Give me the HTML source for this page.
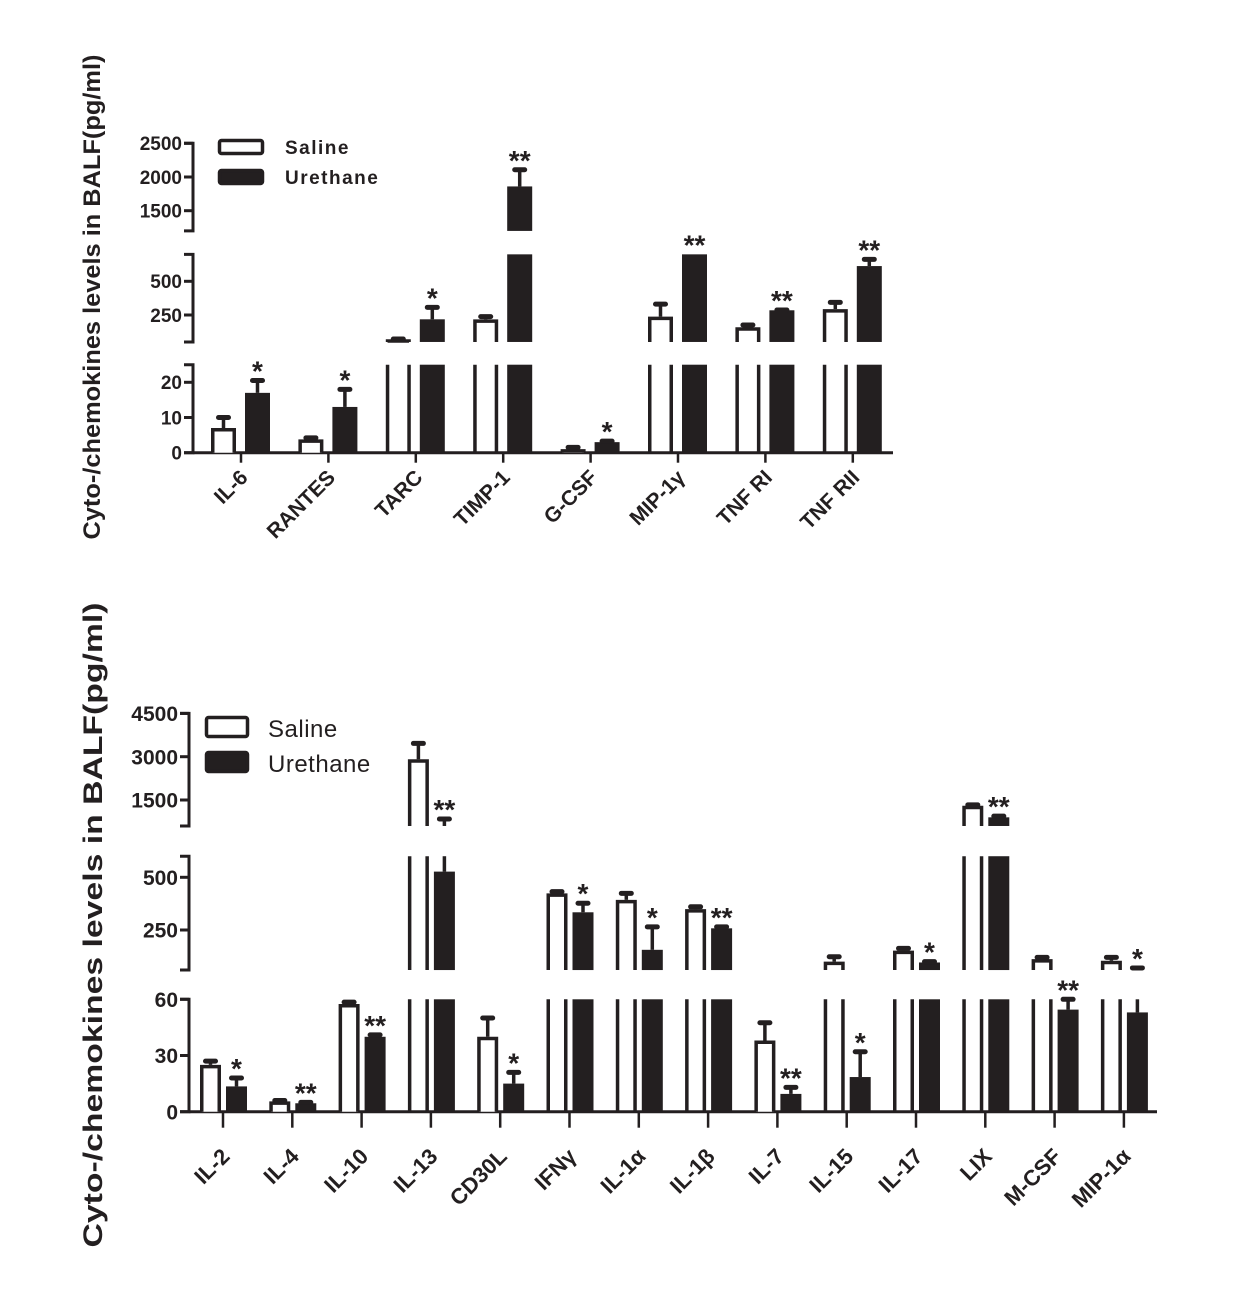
<!DOCTYPE html>
<html><head><meta charset="utf-8"><style>
html,body{margin:0;padding:0;background:#fff;}
svg{display:block;font-family:"Liberation Sans",Arial,sans-serif;}
</style></head>
<body>
<svg id="chart" width="1238" height="1296" viewBox="0 0 1238 1296" xmlns="http://www.w3.org/2000/svg">
<rect width="1238" height="1296" fill="#fff"/>
</svg>
<script>
// ---- Top chart data ----
const topCats = ["IL-6","RANTES","TARC","TIMP-1","G-CSF","MIP-1γ","TNF RI","TNF RII"];
const topSaline = [7, 3.8, 70, 218, 1, 238, 159, 294];
const topSalineErr = [10, 4.2, 72, 238, 1.5, 331, 176, 344];
const topUrethane = [17, 13, 218, 1860, 3, 900, 285, 613];
const topUrethaneErr = [20.5, 18, 307, 2107, 3.3, 900, 287, 663];
const topSig = ["*","*","*","**","*","**","**","**"];
const topTicksLow = [0,10,20];
const topTicksMid = [250,500];
const topTicksHigh = [1500,2000,2500];

// ---- Bottom chart data ----
const botCats = ["IL-2","IL-4","IL-10","IL-13","CD30L","IFNγ","IL-1α","IL-1β","IL-7","IL-15","IL-17","LIX","M-CSF","MIP-1α"];
const botSaline = [25, 5.5, 57.5, 2910, 40, 424, 393, 349, 38, 100, 152, 1300, 112, 104];
const botSalineErr = [27, 6, 58.5, 3460, 50, 432, 424, 360, 47.5, 123, 163, 1330, 120, 120];
const botUrethane = [13.5, 4.5, 40, 527, 15, 334, 156, 258, 9.5, 18.5, 96, 900, 54.5, 53];
const botUrethaneErr = [18, 5, 41, 842, 21, 377, 265, 265, 13, 32, 100, 940, 60, 70];
const botSig = ["*","**","**","**","*","*","*","**","**","*","*","**","**","*"];
const botTicksLow = [0,30,60];
const botTicksMid = [250,500];
const botTicksHigh = [1500,3000,4500];

const NS = "http://www.w3.org/2000/svg";
const svg = document.getElementById("chart");
const INK = "#231f20";

function el(tag, parent) {
  const e = document.createElementNS(NS, tag);
  (parent || svg).appendChild(e);
  return e;
}
function linScale(v0, y0, v1, y1) {
  return v => y0 + (v - v0) * (y1 - y0) / (v1 - v0);
}

function drawChart(c) {
  const g = el("g");
  
  
  c.segs.forEach((s, si) => {
    const ax = el("path", g);
    
    
    ax.setAttribute("d", `M${c.axisX - 9} ${s.y(s.max)} H${c.axisX} V${s.y(s.min)} H${c.axisX - 9}`);
    ax.setAttribute("fill", "none");
    ax.setAttribute("stroke", INK);
    ax.setAttribute("stroke-width", "3");
    s.ticks.forEach(t => {
      const tk = el("line", g);
      
      
      tk.setAttribute("x1", c.axisX - 9); tk.setAttribute("x2", c.axisX);
      tk.setAttribute("y1", s.y(t)); tk.setAttribute("y2", s.y(t));
      tk.setAttribute("stroke", INK); tk.setAttribute("stroke-width", "3");
      const tl = el("text", g);
      
      
      tl.setAttribute("x", c.axisX - 11);
      tl.setAttribute("y", s.y(t) + c.tickFont * 0.36);
      tl.setAttribute("text-anchor", "end");
      tl.setAttribute("font-size", c.tickFont);
      tl.setAttribute("font-weight", "bold");
      tl.setAttribute("fill", INK);
      tl.textContent = String(t);
    });
  });
  const xa = el("line", g);
  
  
  xa.setAttribute("x1", c.axisX); xa.setAttribute("x2", c.axisEnd);
  xa.setAttribute("y1", c.segs[0].y(0)); xa.setAttribute("y2", c.segs[0].y(0));
  xa.setAttribute("stroke", INK); xa.setAttribute("stroke-width", "3");
  const baseY = c.segs[0].y(0);

  function segTop(s, v) { return Math.min(v, s.max); }
  function drawBar(x, w, v, filled, nm) {
    c.segs.forEach(s => {
      if (v <= s.min && s.min > 0) return;
      const y0 = s.y(s.min), y1 = s.y(segTop(s, v));
      const closed = v <= s.max;
      if (filled) {
        const r = el("rect", g);
        
        
        r.setAttribute("x", x); r.setAttribute("y", y1);
        r.setAttribute("width", w); r.setAttribute("height", Math.max(0, y0 - y1));
        r.setAttribute("fill", INK);
      } else {
        const p = el("path", g);
        
        
        const xl = x + 1.75, xr = x + w - 1.75, yt = closed ? y1 + 1.75 : y1;
        p.setAttribute("d", closed ? `M${xl} ${y0} V${yt} H${xr} V${y0}` : `M${xl} ${y0} V${y1} M${xr} ${y1} V${y0}`);
        p.setAttribute("fill", "#fff");
        p.setAttribute("stroke", INK);
        p.setAttribute("stroke-width", "3.5");
      }
    });
  }
  function drawErr(cx, v, e, nm) {
    if (e <= v) return;
    c.segs.forEach(s => {
      const lo = Math.max(v, s.min), hi = Math.min(e, s.max);
      if (hi > lo) {
        const l = el("line", g);
        
        
        l.setAttribute("x1", cx); l.setAttribute("x2", cx);
        l.setAttribute("y1", s.y(lo)); l.setAttribute("y2", s.y(hi));
        l.setAttribute("stroke", INK); l.setAttribute("stroke-width", "3.5");
      }
      if (e > s.min && e <= s.max) {
        const cp = el("line", g);
        
        
        cp.setAttribute("x1", cx - 5); cp.setAttribute("x2", cx + 5);
        cp.setAttribute("y1", s.y(e)); cp.setAttribute("y2", s.y(e));
        cp.setAttribute("stroke", INK); cp.setAttribute("stroke-width", "5");
        cp.setAttribute("stroke-linecap", "round");
      }
    });
  }
  function errY(e) {
    let y = null;
    c.segs.forEach(s => { if (e > s.min && e <= s.max) y = s.y(e); });
    if (y === null) {
      c.segs.forEach(s => { if (e > s.max) y = s.y(s.max); });
    }
    return y;
  }

  c.cats.forEach((cat, i) => {
    const t = c.x0 + i * c.step;
    const tk = el("line", g);
    
    
    tk.setAttribute("x1", t); tk.setAttribute("x2", t);
    tk.setAttribute("y1", baseY); tk.setAttribute("y2", baseY + c.tickLen);
    tk.setAttribute("stroke", INK); tk.setAttribute("stroke-width", "2.5");

    const sx = t - c.gapL - c.barW, ux = t + c.gapR;
    drawBar(sx, c.barW, c.saline[i], false, "saline-bar-" + cat);
    drawErr(sx + c.barW / 2, c.saline[i], c.salineErr[i], "saline-error-" + cat);
    drawBar(ux, c.barW, c.urethane[i], true, "urethane-bar-" + cat);
    drawErr(ux + c.barW / 2, c.urethane[i], c.urethaneErr[i], "urethane-error-" + cat);

    const st = el("text", g);
    
    
    st.setAttribute("x", ux + c.barW / 2);
    st.setAttribute("y", errY(Math.max(c.urethaneErr[i], c.urethane[i])) + 0);
    st.setAttribute("text-anchor", "middle");
    st.setAttribute("font-size", c.starFont);
    st.setAttribute("font-weight", "bold");
    st.setAttribute("fill", INK);
    st.textContent = c.sig[i];

    const lb = el("text", g);
    
    
    lb.setAttribute("transform", `translate(${t + 8},${baseY + c.labelDy}) rotate(-45)`);
    lb.setAttribute("text-anchor", "end");
    lb.setAttribute("font-size", c.labelFont);
    lb.setAttribute("font-weight", "bold");
    lb.setAttribute("fill", INK);
    lb.textContent = cat;
  });

  const yt = el("text", g);
  
  
  yt.setAttribute("transform", `translate(${c.titleX},${c.titleY}) rotate(-90)`);
  yt.setAttribute("text-anchor", "middle");
  yt.setAttribute("font-size", c.titleFont);
  yt.setAttribute("font-weight", "bold");
  yt.setAttribute("fill", INK);
  yt.setAttribute("textLength", c.titleLen);
  yt.setAttribute("lengthAdjust", "spacingAndGlyphs");
  yt.textContent = "Cyto-/chemokines levels in BALF(pg/ml)";

  const lg = el("g", g);
  
  
  const L = c.legend;
  [["Saline", false], ["Urethane", true]].forEach(([name, filled], k) => {
    const r = el("rect", lg);
    
    
    r.setAttribute("x", L.x + 1.5); r.setAttribute("y", L.y + k * L.dy + 1.5);
    r.setAttribute("width", L.w - 3); r.setAttribute("height", L.h - 3);
    r.setAttribute("fill", filled ? INK : "#fff");
    r.setAttribute("stroke", INK); r.setAttribute("stroke-width", "3.5");
    r.setAttribute("rx", "2");
    const tx = el("text", lg);
    
    
    tx.setAttribute("x", L.tx); tx.setAttribute("y", L.y + k * L.dy + L.h - 1);
    tx.setAttribute("font-size", L.font);
    tx.setAttribute("font-weight", L.weight);
    tx.setAttribute("letter-spacing", L.ls);
    tx.setAttribute("fill", INK);
    tx.textContent = name;
  });
}

drawChart({
  name: "top-chart",
  cats: topCats, saline: topSaline, salineErr: topSalineErr,
  urethane: topUrethane, urethaneErr: topUrethaneErr, sig: topSig,
  axisX: 193, axisEnd: 893, x0: 241, step: 87.4, barW: 25, gapL: 5, gapR: 4,
  segs: [
    {min: 0, max: 25, y: linScale(0, 452.7, 20, 382.3), ticks: topTicksLow},
    {min: 50, max: 700, y: linScale(250, 315, 500, 281.3), ticks: topTicksMid},
    {min: 1200, max: 2500, y: linScale(1500, 210.7, 2000, 177), ticks: topTicksHigh}
  ],
  tickFont: 19, starFont: 28, labelFont: 21, labelDy: 26, tickLen: 10,
  titleX: 100, titleY: 297, titleFont: 24, titleLen: 485,
  legend: {x: 218, y: 139, w: 46, h: 16, dy: 30, tx: 285, font: 19, weight: "bold", ls: 1.5}
});

drawChart({
  name: "bottom-chart",
  cats: botCats, saline: botSaline, salineErr: botSalineErr,
  urethane: botUrethane, urethaneErr: botUrethaneErr, sig: botSig,
  axisX: 189, axisEnd: 1157, x0: 223, step: 69.3, barW: 21, gapL: 2, gapR: 3,
  segs: [
    {min: 0, max: 60, y: linScale(0, 1111.7, 30, 1055.5), ticks: botTicksLow},
    {min: 60, max: 600, y: linScale(250, 930, 500, 877.3), ticks: botTicksMid},
    {min: 600, max: 4500, y: linScale(1500, 800, 3000, 756.7), ticks: botTicksHigh}
  ],
  tickFont: 21, starFont: 28, labelFont: 22, labelDy: 46, tickLen: 16,
  titleX: 102, titleY: 925, titleFont: 27, titleLen: 645,
  legend: {x: 205, y: 716, w: 44, h: 22, dy: 35, tx: 268, font: 24, weight: "normal", ls: 0.5}
});
</script>
</body></html>
